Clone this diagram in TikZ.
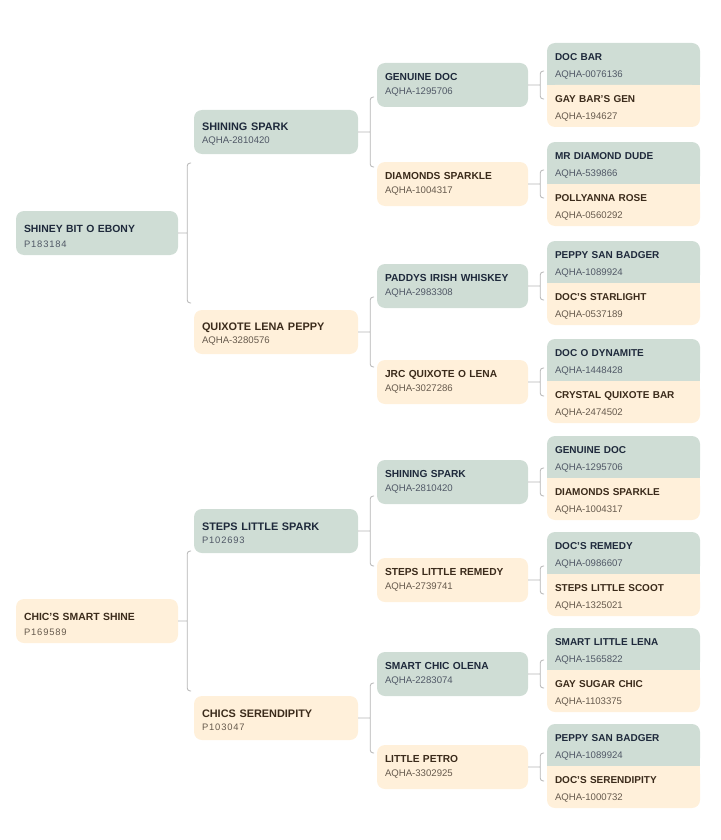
\documentclass[tikz,border=0pt]{standalone}
\usepackage{fontspec}
\setmainfont{Liberation Sans}
\usetikzlibrary{calc}
\pgfdeclarelayer{bg}
\pgfsetlayers{bg,main}
\definecolor{sirebg}{HTML}{CFDDD5}
\definecolor{dambg}{HTML}{FFF0DA}
\definecolor{siretx}{HTML}{1E293B}
\definecolor{damtx}{HTML}{3B2B1B}
\definecolor{linkcol}{HTML}{B4B4B4}
\newcommand\reg[1]{{\mdseries\fontsize{9.6}{12}\selectfont\color{.!78!white}#1}}
\newcommand\pnum[1]{{\mdseries\fontsize{9.4}{12}\selectfont\addfontfeature{LetterSpace=9}\color{.!78!white}#1}}
\tikzset{
  box/.style={rounded corners=8pt,minimum height=44pt,inner xsep=8pt,inner ysep=0pt,align=left},
  sire/.style={box,fill=sirebg,text=siretx},
  dam/.style={box,fill=dambg,text=damtx},
  g1/.style={minimum width=162pt,text width=146pt,font=\fontsize{10.4}{15}\selectfont\bfseries,
    execute at begin node=\rule{0pt}{13.5pt}},
  g2/.style={minimum width=164pt,text width=148pt,font=\fontsize{10.9}{13}\selectfont\bfseries,
    execute at begin node=\rule{0pt}{11.5pt}},
  g3/.style={minimum width=151pt,text width=135pt,font=\fontsize{10.2}{14}\selectfont\bfseries},
  g4/.style={minimum width=153pt,text width=137pt,minimum height=42pt,font=\fontsize{10}{17}\selectfont\bfseries,
    execute at begin node=\rule{0pt}{11pt}},
  link/.style={draw=linkcol,line width=0.8pt}
}
\begin{document}
\begin{tikzpicture}[x=1pt,y=-1pt]
  \useasboundingbox (0,0) rectangle (720,840);
  % first generation
  \node[sire,g1] (sb) at (97,233) {SHINEY BIT O EBONY\\\pnum{P183184}};
  \node[dam,g1] (css) at (97,621) {CHIC'S SMART SHINE\\\pnum{P169589}};
  % parents
  \node[sire,g2] (ss) at (276,132) {SHINING SPARK\\\reg{AQHA-2810420}};
  \node[dam,g2] (qlp) at (276,332) {QUIXOTE LENA PEPPY\\\reg{AQHA-3280576}};
  \node[sire,g2] (sls) at (276,531) {STEPS LITTLE SPARK\\\pnum{P102693}};
  \node[dam,g2] (cser) at (276,718) {CHICS SERENDIPITY\\\pnum{P103047}};
  % grandparents
  \node[sire,g3] (gd) at (452.5,85) {GENUINE DOC\\\reg{AQHA-1295706}};
  \node[dam,g3] (dsp) at (452.5,184) {DIAMONDS SPARKLE\\\reg{AQHA-1004317}};
  \node[sire,g3] (piw) at (452.5,286) {PADDYS IRISH WHISKEY\\\reg{AQHA-2983308}};
  \node[dam,g3] (jrc) at (452.5,382) {JRC QUIXOTE O LENA\\\reg{AQHA-3027286}};
  \node[sire,g3] (ss2) at (452.5,482) {SHINING SPARK\\\reg{AQHA-2810420}};
  \node[dam,g3] (slr) at (452.5,580) {STEPS LITTLE REMEDY\\\reg{AQHA-2739741}};
  \node[sire,g3] (sco) at (452.5,674) {SMART CHIC OLENA\\\reg{AQHA-2283074}};
  \node[dam,g3] (lp) at (452.5,767) {LITTLE PETRO\\\reg{AQHA-3302925}};
  % great grandparents
  \node[sire,g4] (db) at (623.5,64) {DOC BAR\\\reg{AQHA-0076136}};
  \node[dam,g4] (gbg) at (623.5,106) {GAY BAR'S GEN\\\reg{AQHA-194627}};
  \node[sire,g4] (mdd) at (623.5,163) {MR DIAMOND DUDE\\\reg{AQHA-539866}};
  \node[dam,g4] (pr) at (623.5,205) {POLLYANNA ROSE\\\reg{AQHA-0560292}};
  \node[sire,g4] (psb) at (623.5,262) {PEPPY SAN BADGER\\\reg{AQHA-1089924}};
  \node[dam,g4] (dst) at (623.5,304) {DOC'S STARLIGHT\\\reg{AQHA-0537189}};
  \node[sire,g4] (dod) at (623.5,360) {DOC O DYNAMITE\\\reg{AQHA-1448428}};
  \node[dam,g4] (cqb) at (623.5,402) {CRYSTAL QUIXOTE BAR\\\reg{AQHA-2474502}};
  \node[sire,g4] (gd2) at (623.5,457) {GENUINE DOC\\\reg{AQHA-1295706}};
  \node[dam,g4] (dsp2) at (623.5,499) {DIAMONDS SPARKLE\\\reg{AQHA-1004317}};
  \node[sire,g4] (drm) at (623.5,553) {DOC'S REMEDY\\\reg{AQHA-0986607}};
  \node[dam,g4] (slsc) at (623.5,595) {STEPS LITTLE SCOOT\\\reg{AQHA-1325021}};
  \node[sire,g4] (sll) at (623.5,649) {SMART LITTLE LENA\\\reg{AQHA-1565822}};
  \node[dam,g4] (gsc) at (623.5,691) {GAY SUGAR CHIC\\\reg{AQHA-1103375}};
  \node[sire,g4] (psb2) at (623.5,745) {PEPPY SAN BADGER\\\reg{AQHA-1089924}};
  \node[dam,g4] (dser) at (623.5,787) {DOC'S SERENDIPITY\\\reg{AQHA-1000732}};
  % square off the joins of each pair
  \begin{pgfonlayer}{bg}
    \foreach \t/\b in {db/gbg,mdd/pr,psb/dst,dod/cqb,gd2/dsp2,drm/slsc,sll/gsc,psb2/dser} {
      \fill[sirebg] ([yshift=9pt]\t.south west) rectangle (\t.south east);
      \fill[dambg] (\b.north west) rectangle ([yshift=-9pt]\b.north east);
    }
  \end{pgfonlayer}
  % brackets
  \draw[link] (sb.east) -- ++(9,0) ++(4,-70) [rounded corners=3pt] -- ++(-4,0) -- ++(0,140) -- ++(4,0);
  \draw[link] (css.east) -- ++(9,0) ++(4,-70) [rounded corners=3pt] -- ++(-4,0) -- ++(0,140) -- ++(4,0);
  \draw[link] (ss.east) -- ++(12,0) ++(4,-35) [rounded corners=3pt] -- ++(-4,0) -- ++(0,70) -- ++(4,0);
  \draw[link] (qlp.east) -- ++(12,0) ++(4,-35) [rounded corners=3pt] -- ++(-4,0) -- ++(0,70) -- ++(4,0);
  \draw[link] (sls.east) -- ++(12,0) ++(4,-35) [rounded corners=3pt] -- ++(-4,0) -- ++(0,70) -- ++(4,0);
  \draw[link] (cser.east) -- ++(12,0) ++(4,-35) [rounded corners=3pt] -- ++(-4,0) -- ++(0,70) -- ++(4,0);
  \draw[link] (gd.east) -- ++(12,0) ++(4,-14) [rounded corners=3pt] -- ++(-4,0) -- ++(0,28) -- ++(4,0);
  \draw[link] (dsp.east) -- ++(12,0) ++(4,-14) [rounded corners=3pt] -- ++(-4,0) -- ++(0,28) -- ++(4,0);
  \draw[link] (piw.east) -- ++(12,0) ++(4,-14) [rounded corners=3pt] -- ++(-4,0) -- ++(0,28) -- ++(4,0);
  \draw[link] (jrc.east) -- ++(12,0) ++(4,-14) [rounded corners=3pt] -- ++(-4,0) -- ++(0,28) -- ++(4,0);
  \draw[link] (ss2.east) -- ++(12,0) ++(4,-14) [rounded corners=3pt] -- ++(-4,0) -- ++(0,28) -- ++(4,0);
  \draw[link] (slr.east) -- ++(12,0) ++(4,-14) [rounded corners=3pt] -- ++(-4,0) -- ++(0,28) -- ++(4,0);
  \draw[link] (sco.east) -- ++(12,0) ++(4,-14) [rounded corners=3pt] -- ++(-4,0) -- ++(0,28) -- ++(4,0);
  \draw[link] (lp.east) -- ++(12,0) ++(4,-14) [rounded corners=3pt] -- ++(-4,0) -- ++(0,28) -- ++(4,0);
\end{tikzpicture}
\end{document}
